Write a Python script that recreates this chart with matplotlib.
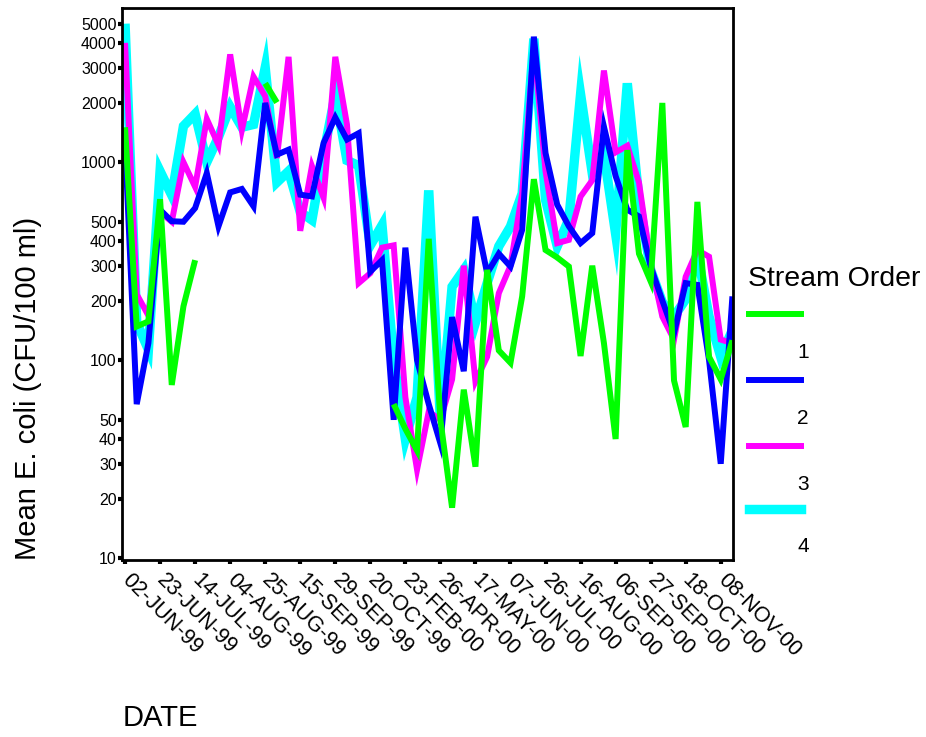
import numpy as np
import matplotlib
matplotlib.use('Agg')
import matplotlib.pyplot as plt
from matplotlib.lines import Line2D
from matplotlib.ticker import NullLocator
from matplotlib.transforms import ScaledTranslation

plt.rcParams['font.family'] = ['Liberation Sans', 'DejaVu Sans']

nan = np.nan

# labelled dates (every 3rd sample)
tick_dates = ['02-JUN-99', '23-JUN-99', '14-JUL-99', '04-AUG-99', '25-AUG-99',
              '15-SEP-99', '29-SEP-99', '20-OCT-99', '23-FEB-00', '26-APR-00',
              '17-MAY-00', '07-JUN-00', '26-JUL-00', '16-AUG-00', '06-SEP-00',
              '27-SEP-00', '18-OCT-00', '08-NOV-00']

# mean E. coli per stream order, one value per sampling date
order1 = [1500, 148, 157, 650, 75, 187, 320, nan, nan, nan,
          nan, nan, 2500, 2000, nan, nan, nan, nan, nan, nan,
          nan, nan, nan, 60, 45, 35, 410, 50, 18, 71,
          29, 286, 112, 97, 210, 820, 360, 330, 297, 105,
          300, 122, 40, 1150, 345, 250, 1990, 79, 46, 630,
          104, 80, 126]
order2 = [1250, 60, 122, 575, 503, 500, 586, 880, 474, 703,
          732, 598, 1990, 1090, 1156, 685, 671, 1250, 1680, 1300,
          1400, 280, 320, 50, 370, 100, 60, 38, 165, 88,
          530, 275, 345, 297, 455, 4300, 1110, 610, 474, 390,
          438, 1510, 850, 575, 532, 297, 200, 137, 245, 240,
          100, 30, 210]
order3 = [4000, 215, 168, 560, 500, 1000, 750, 1650, 1220, 3500,
          1450, 2700, 2150, 1050, 3400, 450, 955, 660, 3400, 1550,
          245, 275, 370, 380, 65, 28, 55, 50, 80, 300,
          78, 104, 218, 300, 700, 3800, 900, 390, 405, 670,
          810, 2900, 1120, 1210, 790, 310, 166, 127, 264, 360,
          333, 127, 122]
order4 = [5000, 155, 113, 900, 680, 1520, 1750, 1000, 1340, 1900,
          1500, 1550, 3000, 790, 900, 560, 510, 1100, 2200, 1020,
          960, 380, 480, 100, 40, 65, 720, 50, 235, 286,
          155, 245, 376, 473, 695, 4200, 645, 376, 515, 2200,
          880, 1100, 435, 2500, 645, 286, 196, 166, 203, 345,
          166, 104, 142]

colors = {'1': '#00ff00', '2': '#0000ff', '3': '#ff00ff', '4': '#00ffff'}
widths = {'1': 4.3, '2': 4.3, '3': 4.3, '4': 6.8}

x = np.arange(len(order1))

fig = plt.figure(figsize=(9.26, 7.37), dpi=100)
ax = fig.add_axes([122 / 926, 1 - 560 / 737, 611 / 926, 552 / 737])

# drawn back to front: 4, 3, 2, 1
for key, vals in [('4', order4), ('3', order3), ('2', order2), ('1', order1)]:
    ax.plot(x, vals, color=colors[key], lw=widths[key],
            solid_joinstyle='miter', solid_capstyle='butt')

ax.set_yscale('log')
ax.set_ylim(9.8, 6000)
ax.set_xlim(-0.26, 52.05)

yt = [10, 20, 30, 40, 50, 100, 200, 300, 400, 500, 1000, 2000, 3000, 4000, 5000]
ax.set_yticks(yt)
ax.set_yticklabels([str(v) for v in yt], fontsize=11.5)
ax.yaxis.set_minor_locator(NullLocator())

ax.set_xticks(x[::3])
ax.set_xticklabels(tick_dates, rotation=-45, ha='left', va='center',
                   rotation_mode='anchor', fontsize=15.5)
shift = ScaledTranslation(4 / 72, 0, fig.dpi_scale_trans)
for lab in ax.get_xticklabels():
    lab.set_transform(lab.get_transform() + shift)

ax.tick_params(axis='both', direction='out', length=3, width=3, color='black')
ax.tick_params(axis='y', pad=0.8)
ax.tick_params(axis='x', pad=9)
for sp in ax.spines.values():
    sp.set_linewidth(2)

fig.text(28 / 926, 1 - 560 / 737, 'Mean E. coli (CFU/100 ml)', rotation=90,
         ha='center', va='bottom', fontsize=21)
fig.text(123 / 926, 1 - 718 / 737, 'DATE', ha='left', va='center', fontsize=21)

# legend, laid out like the original (labels below the swatches)
fig.text(748 / 926, 1 - 279 / 737, 'Stream Order', ha='left', va='center', fontsize=20.5)
legend_y = [314, 380, 446, 509]
for i, key in enumerate(['1', '2', '3', '4']):
    yy = 1 - legend_y[i] / 737
    fig.add_artist(Line2D([749 / 926, 801 / 926], [yy, yy], color=colors[key],
                          lw=widths[key], transform=fig.transFigure))
    fig.text(803 / 926, yy - 38 / 737, key, ha='center', va='center', fontsize=15)

fig.savefig('out.png', dpi=100)
